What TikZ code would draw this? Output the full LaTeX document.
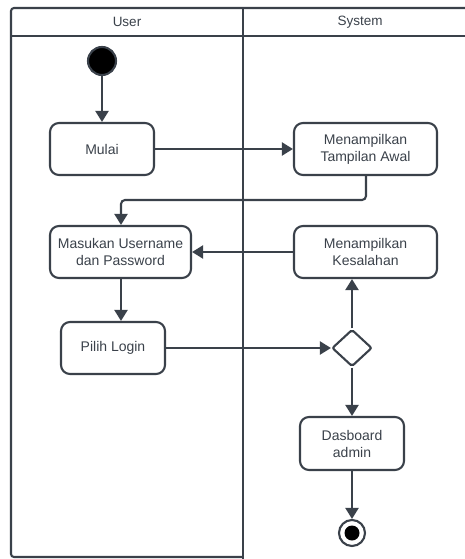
\documentclass[tikz,border=0pt]{standalone}
\usepackage{fontspec}
\setmainfont{Liberation Sans}
\usetikzlibrary{arrows.meta,shapes.geometric}
\definecolor{ink}{HTML}{3A414A}
\begin{document}
\begin{tikzpicture}[x=1pt,y=-1pt,
  line width=2.1pt, draw=ink,
  act/.style={draw=ink, rounded corners=9pt, minimum width=#1, minimum height=52pt,
    align=center, font=\fontsize{14}{17}\selectfont, text=ink, inner sep=2pt},
  lbl/.style={font=\fontsize{13.5}{16}\selectfont, text=ink},
  flow/.style={draw=ink, -{Triangle[length=11pt,width=13pt]}},
  decision/.style={draw=ink, diamond, minimum width=40pt, minimum height=37pt, inner sep=0pt, rounded corners=2pt},
]
\useasboundingbox (0,0) rectangle (465,559);
% swimlanes
\draw[ink, rounded corners=3pt] (467,8) -- (11,8) -- (11,557) -- (243,557);
\draw[ink] (11,36) -- (467,36);
\draw[ink] (243,8) -- (243,560);
\node[lbl] (hu) at (127,22) {User};
\node[lbl] (hs) at (360,22) {System};
% nodes
\node[circle, fill=black, draw=ink, minimum size=28pt, inner sep=0pt] (start) at (102,61) {};
\node[act=104pt] (mulai) at (102,149) {Mulai};
\node[act=143pt] (awal) at (365.5,149) {Menampilkan\\Tampilan Awal};
\node[act=141pt] (masuk) at (120.5,252) {Masukan Username\\dan Password};
\node[act=143pt] (salah) at (365.5,252) {Menampilkan\\Kesalahan};
\node[act=104pt] (login) at (113,348) {Pilih Login};
\node[decision] (dec) at (352,348) {};
\node[act=104pt, minimum height=53pt] (dash) at (352,443.5) {Dasboard\\admin};
\node[circle, draw=ink, minimum size=26pt, inner sep=0pt] (stop) at (352,533) {};
\node[circle, fill=black, minimum size=15pt, inner sep=0pt] (stopin) at (stop) {};
% connectors
\draw[flow] (start) -- (mulai);
\draw[flow] (mulai) -- (awal);
\draw[flow, rounded corners=4pt] (awal.south -| 366,0) -- (366,200) -- (121,200) -- (masuk.north -| 121,0);
\draw[flow] (salah) -- (masuk);
\draw[flow] (masuk.south -| 121,0) -- (login.north -| 121,0);
\draw[flow] (login) -- (dec);
\draw[flow] (dec) -- (salah.south -| dec);
\draw[flow] (dec) -- (dash);
\draw[flow] (dash) -- (stop);
\end{tikzpicture}
\end{document}
